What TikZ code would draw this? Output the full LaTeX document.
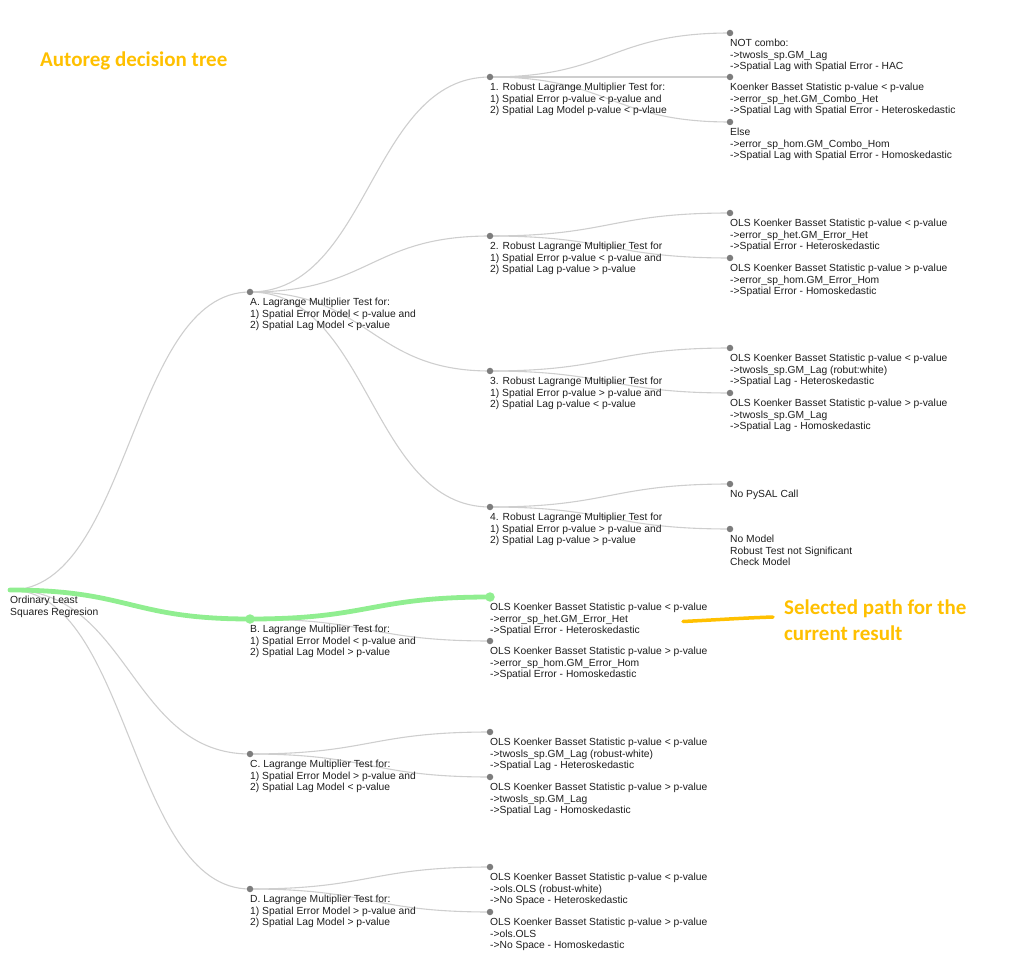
\documentclass[tikz,border=0pt]{standalone}
\usepackage{fontspec}
\setmainfont{Liberation Sans}
\newfontfamily\notefont{Carlito}
\usetikzlibrary{backgrounds}
\definecolor{linkgray}{RGB}{206,206,206}
\definecolor{dotgray}{RGB}{125,125,125}
\definecolor{selgreen}{RGB}{144,238,144}
\definecolor{noteyellow}{RGB}{255,192,0}
\definecolor{txt}{RGB}{30,30,30}
\tikzset{
  tdot/.style={circle, fill=dotgray, inner sep=0pt, minimum size=6.5pt},
  gdot/.style={circle, fill=selgreen, inner sep=0pt, minimum size=9.5pt},
  rdot/.style={circle, inner sep=0pt, minimum size=1pt},
  lbl/.style={anchor=north west, inner sep=0pt, align=left, text=txt,
    font=\fontsize{10.3}{11.9}\selectfont},
  link/.style={draw=linkgray, line width=1.1pt},
  sel/.style={draw=selgreen, line width=4.8pt, line cap=round},
  note/.style={anchor=base west, inner sep=0pt, align=left, text=noteyellow,
    font=\notefont\bfseries\fontsize{21}{26}\selectfont},
}
\newcommand\treenode[5]{%
  \node[#5] (#1) at (#2,#3) {};
  \node[lbl] (#1l) at ([yshift=-5.5pt]#1.center) {#4};}
\newcommand\lnk[3][link]{%
  \draw[#1] (#2.center) .. controls +(120,0) and +(-120,0) .. (#3.center);}
\begin{document}
\begin{tikzpicture}[x=1pt,y=-1pt]
\useasboundingbox (0,0) rectangle (1012,965);
% level 0
\treenode{R}{10}{590}{Ordinary Least\\Squares Regresion}{rdot}
% level 1
\treenode{A}{250}{292}{A. Lagrange Multiplier Test for:\\1) Spatial Error Model < p-value and\\2) Spatial Lag Model < p-value}{tdot}
\treenode{B}{250}{619}{B. Lagrange Multiplier Test for:\\1) Spatial Error Model < p-value and\\2) Spatial Lag Model > p-value}{gdot}
\treenode{C}{250}{754}{C. Lagrange Multiplier Test for:\\1) Spatial Error Model > p-value and\\2) Spatial Lag Model < p-value}{tdot}
\treenode{D}{250}{889}{D. Lagrange Multiplier Test for:\\1) Spatial Error Model > p-value and\\2) Spatial Lag Model > p-value}{tdot}
% level 2
\treenode{A1}{490}{77}{1. Robust Lagrange Multiplier Test for:\\1) Spatial Error p-value < p-value and\\2) Spatial Lag Model p-value < p-vlaue}{tdot}
\treenode{A2}{490}{236}{2. Robust Lagrange Multiplier Test for\\1) Spatial Error p-value < p-value and\\2) Spatial Lag p-value > p-value}{tdot}
\treenode{A3}{490}{371}{3. Robust Lagrange Multiplier Test for\\1) Spatial Error p-value > p-value and\\2) Spatial Lag p-value < p-value}{tdot}
\treenode{A4}{490}{507}{4. Robust Lagrange Multiplier Test for\\1) Spatial Error p-value > p-value and\\2) Spatial Lag p-value > p-value}{tdot}
\treenode{B1}{490}{597}{OLS Koenker Basset Statistic p-value < p-value\\->error\_sp\_het.GM\_Error\_Het\\->Spatial Error - Heteroskedastic}{gdot}
\treenode{B2}{490}{641}{OLS Koenker Basset Statistic p-value > p-value\\->error\_sp\_hom.GM\_Error\_Hom\\->Spatial Error - Homoskedastic}{tdot}
\treenode{C1}{490}{732}{OLS Koenker Basset Statistic p-value < p-value\\->twosls\_sp.GM\_Lag (robust-white)\\->Spatial Lag - Heteroskedastic}{tdot}
\treenode{C2}{490}{777}{OLS Koenker Basset Statistic p-value > p-value\\->twosls\_sp.GM\_Lag\\->Spatial Lag - Homoskedastic}{tdot}
\treenode{D1}{490}{867}{OLS Koenker Basset Statistic p-value < p-value\\->ols.OLS (robust-white)\\->No Space - Heteroskedastic}{tdot}
\treenode{D2}{490}{912}{OLS Koenker Basset Statistic p-value > p-value\\->ols.OLS\\->No Space - Homoskedastic}{tdot}
% level 3
\treenode{A1a}{730}{33}{NOT combo:\\->twosls\_sp.GM\_Lag\\->Spatial Lag with Spatial Error - HAC}{tdot}
\treenode{A1b}{730}{77}{Koenker Basset Statistic p-value < p-value\\->error\_sp\_het.GM\_Combo\_Het\\->Spatial Lag with Spatial Error - Heteroskedastic}{tdot}
\treenode{A1c}{730}{122}{Else\\->error\_sp\_hom.GM\_Combo\_Hom\\->Spatial Lag with Spatial Error - Homoskedastic}{tdot}
\treenode{A2a}{730}{213}{OLS Koenker Basset Statistic p-value < p-value\\->error\_sp\_het.GM\_Error\_Het\\->Spatial Error - Heteroskedastic}{tdot}
\treenode{A2b}{730}{258}{OLS Koenker Basset Statistic p-value > p-value\\->error\_sp\_hom.GM\_Error\_Hom\\->Spatial Error - Homoskedastic}{tdot}
\treenode{A3a}{730}{348}{OLS Koenker Basset Statistic p-value < p-value\\->twosls\_sp.GM\_Lag (robut:white)\\->Spatial Lag - Heteroskedastic}{tdot}
\treenode{A3b}{730}{393}{OLS Koenker Basset Statistic p-value > p-value\\->twosls\_sp.GM\_Lag\\->Spatial Lag - Homoskedastic}{tdot}
\treenode{A4a}{730}{484}{No PySAL Call}{tdot}
\treenode{A4b}{730}{529}{No Model\\Robust Test not Significant\\Check Model}{tdot}
% links
\begin{pgfonlayer}{background}
\lnk{R}{A}\lnk{R}{B}\lnk{R}{C}\lnk{R}{D}
\lnk{A}{A1}\lnk{A}{A2}\lnk{A}{A3}\lnk{A}{A4}
\lnk{B}{B1}\lnk{B}{B2}\lnk{C}{C1}\lnk{C}{C2}\lnk{D}{D1}\lnk{D}{D2}
\lnk{A1}{A1a}\lnk{A1}{A1b}\lnk{A1}{A1c}
\lnk{A2}{A2a}\lnk{A2}{A2b}\lnk{A3}{A3a}\lnk{A3}{A3b}
\lnk{A4}{A4a}\lnk{A4}{A4b}
\lnk[sel]{R}{B}\lnk[sel]{B}{B1}
\end{pgfonlayer}
% annotations
\node[note] (title) at (40,67) {Autoreg decision tree};
\node[note] (selnote) at (784,640) {Selected path for the\\current result};
\coordinate (scrA) at (683,621.5);
\coordinate (scrB) at (773,617);
\draw[noteyellow, line width=3.5pt, line cap=round] (scrA) .. controls (713,620) and (743,618) .. (scrB);
\end{tikzpicture}
\end{document}
